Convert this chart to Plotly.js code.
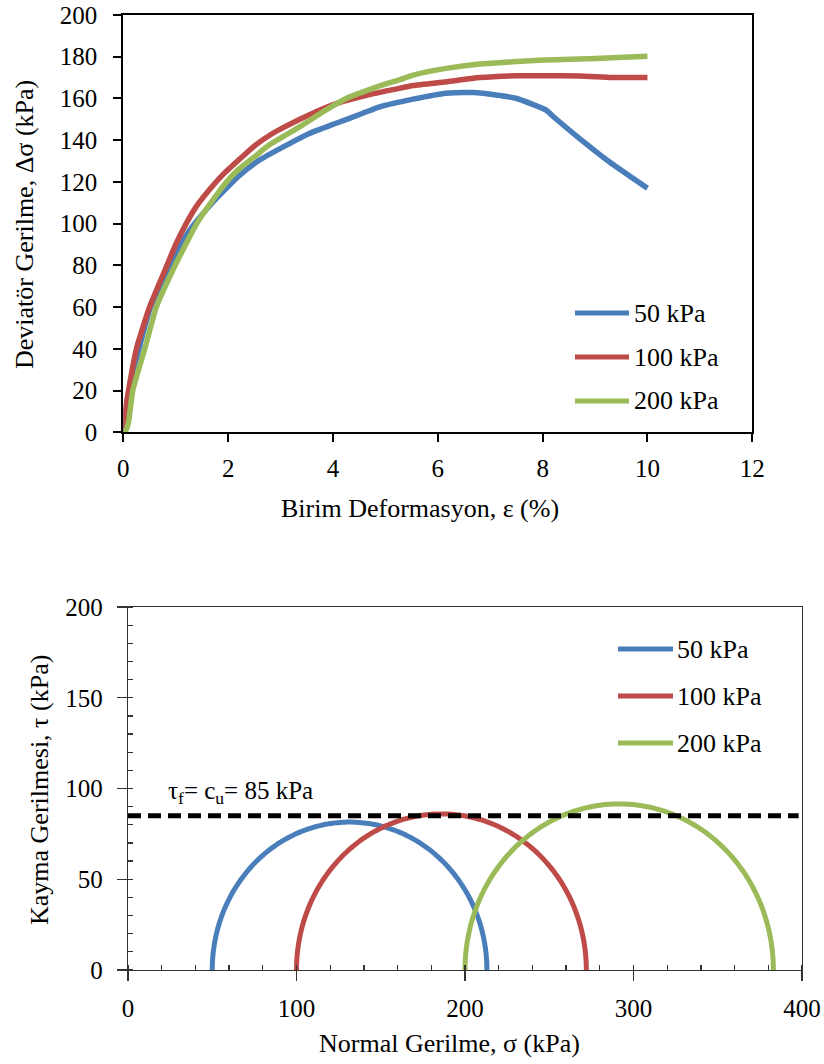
<!DOCTYPE html>
<html>
<head>
<meta charset="utf-8">
<script src="https://cdn.plot.ly/plotly-3.0.1.min.js"></script>
<style>
  html, body { margin: 0; padding: 0; background: #fff; }
  #chart { width: 824px; height: 1064px; }
</style>
</head>
<body>
<div id="chart"></div>
<script>
// ---------- Data ----------
const seriesNames = ["50 kPa", "100 kPa", "200 kPa"];
const seriesColors = ["#4A7EBB", "#BE4B48", "#9BBB59"];

// Top chart: deviator stress vs axial strain
const strain50 = [0, 0.05, 0.13, 0.3, 0.52, 0.85, 1.05, 1.33, 1.7, 1.87, 2.19, 2.6, 3.18, 3.56, 4.06, 4.57, 4.89, 5.53, 6.16, 6.67, 7.11, 7.49, 8.06, 8.19, 8.7, 9.27, 10];
const dev50    = [0, 10, 22, 40, 60, 78, 88, 99, 110, 114.5, 122.5, 130.5, 138.5, 143.3, 148.1, 152.9, 156, 159.7, 162.5, 162.8, 161.7, 160.1, 154.5, 151.6, 140.9, 129.7, 117];

const strain100 = [0, 0.04, 0.1, 0.25, 0.5, 0.8, 1.0, 1.2, 1.4, 1.65, 1.9, 2.2, 2.54, 2.8, 3.05, 3.49, 4.06, 4.64, 5.2, 5.53, 6.16, 6.8, 7.49, 8.06, 8.7, 9.33, 10];
const dev100    = [0, 10, 20, 40, 60, 78, 90, 100, 108.5, 116.5, 123.5, 130.5, 138, 142.5, 146, 151.5, 157.5, 161.5, 164.5, 166.2, 168, 170, 170.9, 170.9, 170.8, 170.1, 170];

const strain200 = [0, 0.05, 0.1, 0.18, 0.41, 0.63, 0.95, 1.15, 1.4, 1.7, 1.97, 2.2, 2.5, 2.8, 3.37, 3.87, 4.25, 4.95, 5.27, 5.53, 6.16, 6.8, 7.43, 8.06, 8.7, 9.33, 10];
const dev200    = [0, 1, 5, 20, 40, 60, 78, 88, 100, 111, 120, 126, 132, 138, 146.5, 154.5, 160, 166.5, 168.9, 171.2, 174.4, 176.5, 177.6, 178.4, 178.9, 179.5, 180.2];

// Bottom chart: Mohr circles
const sigma3 = [50, 100, 200];     // minor principal stress (kPa)
const sigma1 = [213, 272, 383];    // major principal stress (kPa)
const cu = 85;                     // undrained shear strength (kPa)
const cuLineX = [0, 398];

// Tick values
const topXTicks = [0, 2, 4, 6, 8, 10, 12];
const topYTicks = [0, 20, 40, 60, 80, 100, 120, 140, 160, 180, 200];
const botXTicks = [0, 100, 200, 300, 400];
const botYTicks = [0, 50, 100, 150, 200];

// ---------- Helpers ----------
const W = 824, H = 1064;
const px = v => v / W;
const py = v => 1 - v / H;
const FONT = 'Liberation Serif, Times New Roman, serif';

const strains = [strain50, strain100, strain200];
const devs = [dev50, dev100, dev200];

const traces = [];
for (let i = 0; i < 3; i++) {
  traces.push({
    x: strains[i], y: devs[i], type: 'scatter', mode: 'lines',
    name: seriesNames[i], showlegend: false,
    line: { color: seriesColors[i], width: 5.5, shape: 'spline', smoothing: 0.5 },
    xaxis: 'x', yaxis: 'y'
  });
}
for (let i = 0; i < 3; i++) {
  const c = (sigma1[i] + sigma3[i]) / 2, r = (sigma1[i] - sigma3[i]) / 2;
  const xs = [], ys = [];
  const N = 180;
  for (let k = 0; k <= N; k++) {
    const t = Math.PI * (1 - k / N);
    xs.push(c + r * Math.cos(t));
    ys.push(r * Math.sin(t));
  }
  traces.push({
    x: xs, y: ys, type: 'scatter', mode: 'lines', name: seriesNames[i], showlegend: false,
    line: { color: seriesColors[i], width: 5, simplify: false }, xaxis: 'x2', yaxis: 'y2'
  });
}
traces.push({
  x: cuLineX, y: [cu, cu], type: 'scatter', mode: 'lines', showlegend: false,
  line: { color: '#000', width: 5, dash: '13px,7px' }, xaxis: 'x2', yaxis: 'y2'
});

const tickFont = { family: FONT, size: 25, color: '#000' };

const layout = {
  width: W, height: H,
  margin: { l: 0, r: 0, t: 0, b: 0 },
  paper_bgcolor: '#fff', plot_bgcolor: '#fff',
  font: { family: FONT, color: '#000' },
  showlegend: false,
  xaxis: {
    domain: [px(123.3), px(752.3)], anchor: 'y',
    range: [0, 12], tickvals: topXTicks, ticktext: topXTicks.map(String),
    ticks: 'outside', ticklen: 8, tickwidth: 2, tickcolor: '#000',
    showline: true, linewidth: 2, linecolor: '#000', mirror: true,
    showgrid: false, zeroline: false, tickfont: tickFont, ticklabelstandoff: 5
  },
  yaxis: {
    domain: [py(432.3), py(15)], anchor: 'x',
    range: [0, 200], tickvals: topYTicks, ticktext: topYTicks.map(String),
    ticks: 'outside', ticklen: 8, tickwidth: 2, tickcolor: '#000',
    showline: true, linewidth: 2, linecolor: '#000', mirror: true,
    showgrid: false, zeroline: false, tickfont: tickFont, ticklabelstandoff: 11
  },
  xaxis2: {
    domain: [px(128), px(802)], anchor: 'y2',
    range: [0, 400], tickvals: botXTicks, ticktext: botXTicks.map(String),
    ticks: 'outside', ticklen: 10, tickwidth: 1.3, tickcolor: '#333',
    minor: { dtick: 20, tick0: 0, ticks: 'inside', ticklen: 5, tickwidth: 1.3, tickcolor: '#333' },
    showline: true, linewidth: 1.3, linecolor: '#333', mirror: true,
    showgrid: false, zeroline: false, tickfont: tickFont, ticklabelstandoff: 6
  },
  yaxis2: {
    domain: [py(970), py(607)], anchor: 'x2',
    range: [0, 200], tickvals: botYTicks, ticktext: botYTicks.map(String),
    ticks: 'outside', ticklen: 10, tickwidth: 1.3, tickcolor: '#333',
    minor: { dtick: 10, tick0: 0, ticks: 'inside', ticklen: 5, tickwidth: 1.3, tickcolor: '#333' },
    showline: true, linewidth: 1.3, linecolor: '#333', mirror: true,
    showgrid: false, zeroline: false, tickfont: tickFont, ticklabelstandoff: 9
  },
  shapes: [],
  annotations: [
    { text: 'Birim Deformasyon, ε (%)', xref: 'paper', yref: 'paper', x: px(420), y: py(508),
      xanchor: 'center', yanchor: 'middle', showarrow: false, font: { family: FONT, size: 26, color: '#000' } },
    { text: 'Deviatör Gerilme, Δσ (kPa)', xref: 'paper', yref: 'paper', x: px(25), y: py(225),
      xanchor: 'center', yanchor: 'middle', textangle: -90, showarrow: false, font: { family: FONT, size: 26, color: '#000' } },
    { text: 'Normal Gerilme, σ (kPa)', xref: 'paper', yref: 'paper', x: px(449), y: py(1043),
      xanchor: 'center', yanchor: 'middle', showarrow: false, font: { family: FONT, size: 26, color: '#000' } },
    { text: 'Kayma Gerilmesi, τ (kPa)', xref: 'paper', yref: 'paper', x: px(40), y: py(790),
      xanchor: 'center', yanchor: 'middle', textangle: -90, showarrow: false, font: { family: FONT, size: 26, color: '#000' } },
    { text: 'τ<sub>f</sub>= c<sub>u</sub>= ' + cu + ' kPa', xref: 'paper', yref: 'paper', x: px(166), y: py(792),
      xanchor: 'left', yanchor: 'middle', showarrow: false, font: { family: FONT, size: 25, color: '#000' } }
  ]
};

// Manual legends (long line samples as in the reference)
const topLegendY = [313, 357, 401];
const botLegendY = [649, 696, 743];
for (let i = 0; i < 3; i++) {
  layout.shapes.push({ type: 'line', xref: 'paper', yref: 'paper', x0: px(575), x1: px(629), y0: py(topLegendY[i]), y1: py(topLegendY[i]),
    line: { color: seriesColors[i], width: 5 } });
  layout.annotations.push({ text: seriesNames[i], xref: 'paper', yref: 'paper', x: px(632), y: py(topLegendY[i]),
    xanchor: 'left', yanchor: 'middle', showarrow: false, font: { family: FONT, size: 26, color: '#000' } });
  layout.shapes.push({ type: 'line', xref: 'paper', yref: 'paper', x0: px(618), x1: px(673), y0: py(botLegendY[i]), y1: py(botLegendY[i]),
    line: { color: seriesColors[i], width: 5 } });
  layout.annotations.push({ text: seriesNames[i], xref: 'paper', yref: 'paper', x: px(675), y: py(botLegendY[i]),
    xanchor: 'left', yanchor: 'middle', showarrow: false, font: { family: FONT, size: 26, color: '#000' } });
}

Plotly.newPlot('chart', traces, layout, { staticPlot: true, displayModeBar: false });
</script>
</body>
</html>
